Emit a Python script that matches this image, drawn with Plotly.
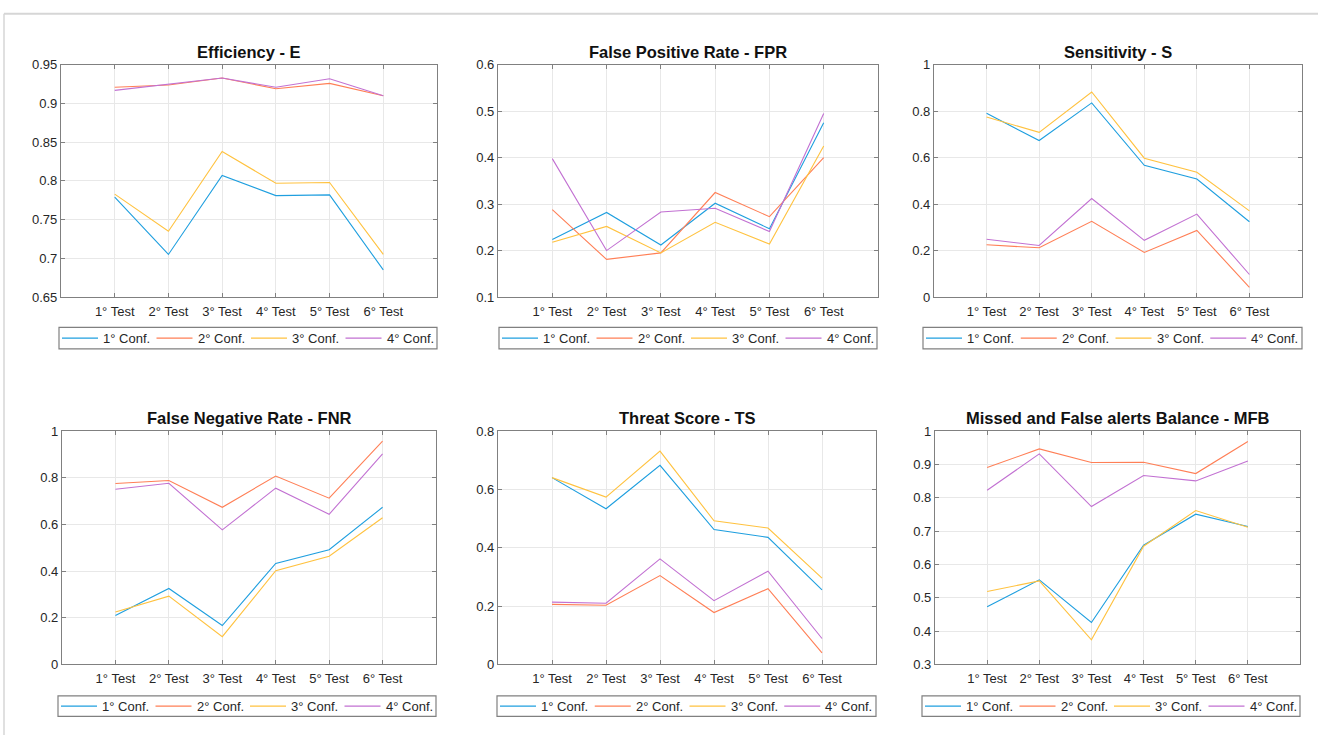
import plotly.graph_objects as go

# ---- data -------------------------------------------------------------
tests = ["1° Test", "2° Test", "3° Test", "4° Test", "5° Test", "6° Test"]
confs = ["1° Conf.", "2° Conf.", "3° Conf.", "4° Conf."]

eff_E = [
    [0.779, 0.705, 0.807, 0.781, 0.782, 0.685],
    [0.921, 0.924, 0.933, 0.919, 0.926, 0.910],
    [0.783, 0.735, 0.838, 0.797, 0.798, 0.705],
    [0.917, 0.925, 0.933, 0.921, 0.932, 0.910],
]
fpr = [
    [0.224, 0.282, 0.212, 0.302, 0.247, 0.475],
    [0.288, 0.181, 0.195, 0.325, 0.273, 0.400],
    [0.218, 0.252, 0.195, 0.261, 0.214, 0.425],
    [0.398, 0.200, 0.283, 0.291, 0.241, 0.495],
]
sens = [
    [0.791, 0.674, 0.836, 0.567, 0.508, 0.324],
    [0.225, 0.212, 0.326, 0.192, 0.287, 0.042],
    [0.775, 0.709, 0.883, 0.598, 0.537, 0.371],
    [0.249, 0.222, 0.424, 0.244, 0.357, 0.097],
]
fnr = [
    [0.210, 0.326, 0.167, 0.433, 0.492, 0.674],
    [0.776, 0.789, 0.674, 0.808, 0.713, 0.958],
    [0.225, 0.293, 0.119, 0.402, 0.464, 0.629],
    [0.751, 0.777, 0.577, 0.756, 0.644, 0.903],
]
ts = [
    [0.641, 0.534, 0.683, 0.463, 0.436, 0.256],
    [0.206, 0.203, 0.305, 0.178, 0.260, 0.040],
    [0.641, 0.574, 0.732, 0.493, 0.468, 0.296],
    [0.214, 0.210, 0.362, 0.219, 0.320, 0.089],
]
mfb = [
    [0.473, 0.554, 0.426, 0.658, 0.751, 0.714],
    [0.891, 0.947, 0.906, 0.907, 0.873, 0.969],
    [0.519, 0.551, 0.374, 0.655, 0.762, 0.712],
    [0.823, 0.932, 0.774, 0.867, 0.851, 0.911],
]

titles = [
    "Efficiency - E", "False Positive Rate - FPR", "Sensitivity - S",
    "False Negative Rate - FNR", "Threat Score - TS",
    "Missed and False alerts Balance - MFB",
]
series = [eff_E, fpr, sens, fnr, ts, mfb]

yticks_E = [0.65, 0.7, 0.75, 0.8, 0.85, 0.9, 0.95]
yticks_FPR = [0.1, 0.2, 0.3, 0.4, 0.5, 0.6]
yticks_S = [0, 0.2, 0.4, 0.6, 0.8, 1]
yticks_FNR = [0, 0.2, 0.4, 0.6, 0.8, 1]
yticks_TS = [0, 0.2, 0.4, 0.6, 0.8]
yticks_MFB = [0.3, 0.4, 0.5, 0.6, 0.7, 0.8, 0.9, 1]
yticks = [yticks_E, yticks_FPR, yticks_S, yticks_FNR, yticks_TS, yticks_MFB]

# ---- styling / layout -------------------------------------------------
W, H = 1318, 743
colors = ["#1f9fdf", "#ff7f56", "#ffc23f", "#c271d2"]
FONT = "Liberation Sans, Arial, sans-serif"
AXIS_COL = "#808080"
TXT_COL = "#262626"

# plot boxes in pixels: (left, right, top, bottom)
boxes = [
    (61, 437, 59, 296), (498, 878, 59, 296), (934, 1302, 59, 296),
    (62, 436, 433, 671), (498, 876, 433, 671), (935, 1300, 433, 671),
]
# legend boxes in pixels: (left, right, top, bottom)
legend_boxes = [
    (59, 437, 327, 349), (499, 877, 327, 349), (923, 1302, 327, 349),
    (58, 436, 703, 724), (497, 876, 703, 724), (922, 1300, 703, 724),
]


def px(x):
    return x / W


def py(y):
    return 1 - y / H


fig = go.Figure()
layout = dict(
    width=W, height=H, autosize=False,
    margin=dict(l=0, r=0, t=0, b=0),
    paper_bgcolor="white", plot_bgcolor="white",
    font=dict(family=FONT, size=13, color=TXT_COL),
    showlegend=False,
    annotations=[], shapes=[],
)

xvals = list(range(1, len(tests) + 1))

for i, (data, title, tv, box, lb) in enumerate(
        zip(series, titles, yticks, boxes, legend_boxes)):
    k = "" if i == 0 else str(i + 1)
    for j, (vals, name) in enumerate(zip(data, confs)):
        fig.add_trace(go.Scatter(
            x=xvals, y=vals, mode="lines", name=name,
            line=dict(color=colors[j], width=1.1),
            xaxis="x" + k, yaxis="y" + k,
        ))
    l, r, t, b = box
    common = dict(
        showline=True, linecolor=AXIS_COL, linewidth=1.2, mirror="ticks",
        ticks="inside", ticklen=4, tickcolor=AXIS_COL, tickwidth=1,
        showgrid=True, gridcolor="#e8e8e8", gridwidth=1, zeroline=False,
        tickfont=dict(family=FONT, size=13, color=TXT_COL),
    )
    layout["xaxis" + k] = dict(
        domain=[px(l), px(r)], range=[0, 7], anchor="y" + k,
        tickvals=xvals, ticktext=tests, tickangle=0, ticklabelstandoff=2,
        **common,
    )
    layout["yaxis" + k] = dict(
        domain=[py(b), py(t)], range=[tv[0], tv[-1]], anchor="x" + k,
        tickvals=tv, ticktext=[f"{v:g}" for v in tv], **common,
    )
    layout["annotations"].append(dict(
        text="<b>" + title + "</b>", x=px((l + r) / 2), y=py(t - 2),
        xref="paper", yref="paper", xanchor="center", yanchor="bottom",
        showarrow=False, font=dict(family=FONT, size=16.5, color="#111111"),
    ))

    # legend box with one line sample and label per configuration
    ll, lr, lt, lbt = lb
    layout["shapes"].append(dict(
        type="rect", xref="paper", yref="paper",
        x0=px(ll), x1=px(lr), y0=py(lbt), y1=py(lt),
        line=dict(color=AXIS_COL, width=1.2), fillcolor="white",
    ))
    step = (lr - ll) / len(confs)
    ymid = (lt + lbt) / 2
    for j, name in enumerate(confs):
        x0 = ll + 3 + j * step
        layout["shapes"].append(dict(
            type="line", xref="paper", yref="paper",
            x0=px(x0), x1=px(x0 + 36), y0=py(ymid), y1=py(ymid),
            line=dict(color=colors[j], width=1.2),
        ))
        layout["annotations"].append(dict(
            text=name, x=px(x0 + 39), y=py(ymid), xref="paper", yref="paper",
            xanchor="left", yanchor="middle", showarrow=False,
            font=dict(family=FONT, size=13, color=TXT_COL),
        ))

# thin outer frame on the top and left edges
layout["shapes"] += [
    dict(type="line", xref="paper", yref="paper", x0=px(4), x1=1,
         y0=py(7), y1=py(7), line=dict(color="#d6d6d6", width=2)),
    dict(type="line", xref="paper", yref="paper", x0=px(4), x1=px(4),
         y0=py(7), y1=0, line=dict(color="#d6d6d6", width=1.5)),
]

fig.update_layout(**layout)
fig.write_html("out.html")
